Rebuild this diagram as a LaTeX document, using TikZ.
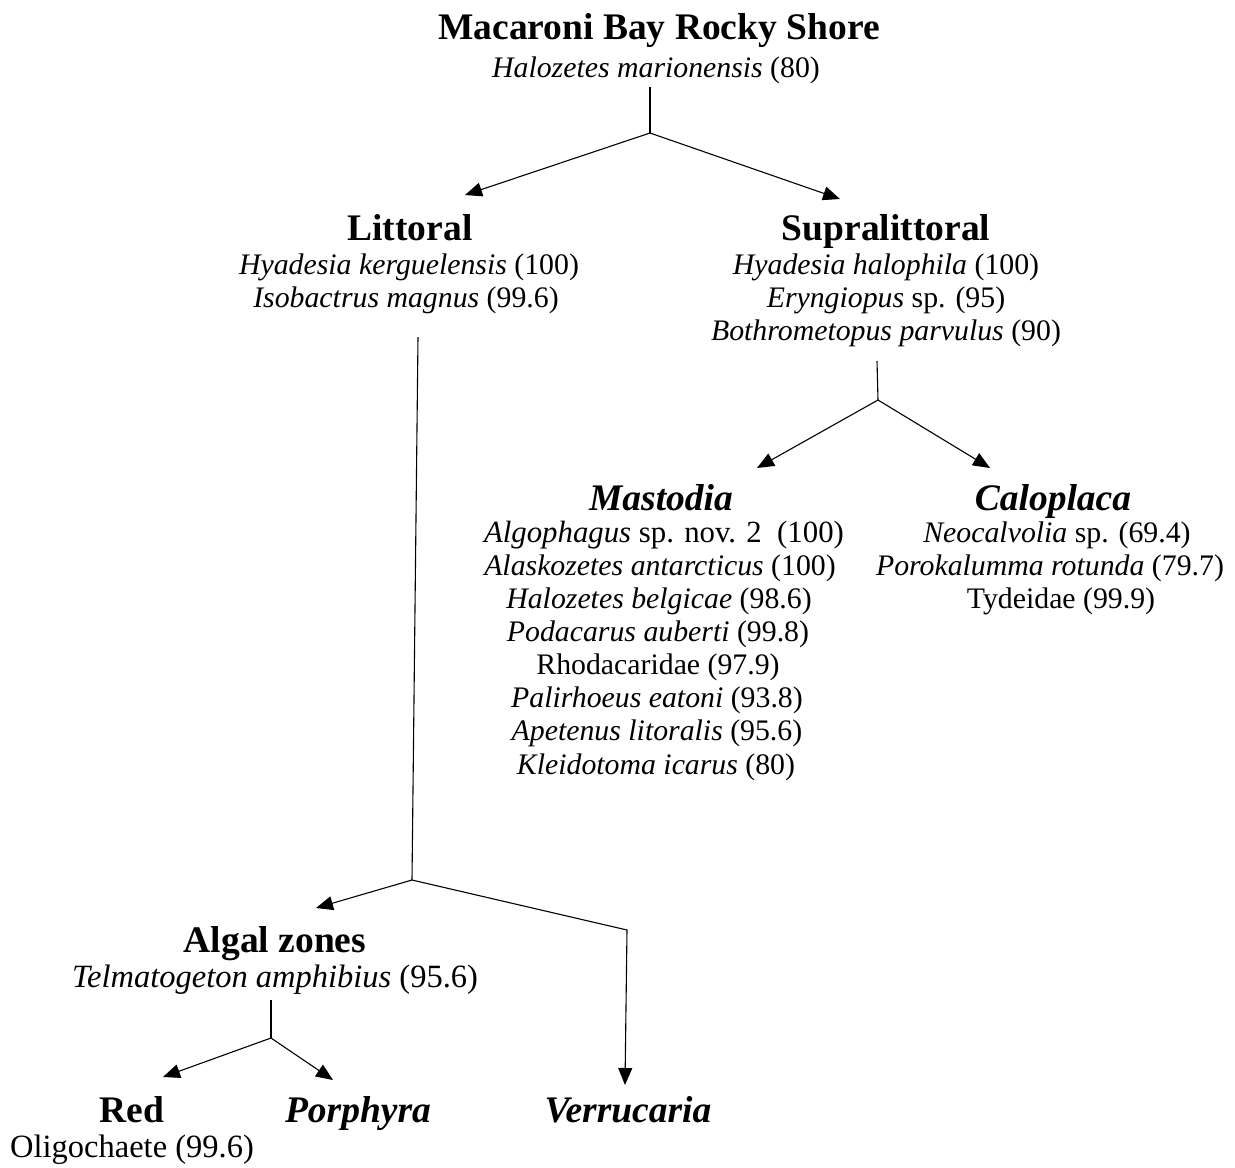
\documentclass[tikz,border=0pt]{standalone}
\usepackage{fontspec}
\setmainfont{Liberation Serif}
\usetikzlibrary{arrows.meta}
\begin{document}
\begin{tikzpicture}[x=1pt,y=-1pt,
  head/.style={anchor=base,inner sep=0pt,font=\fontsize{37.5}{40}\selectfont\bfseries},
  txt/.style={anchor=base,inner sep=0pt,font=\fontsize{29.8}{33.3}\selectfont},
  bigtxt/.style={anchor=base,inner sep=0pt,font=\fontsize{32.5}{35}\selectfont},
  conn/.style={line width=1.1pt},
  arr/.style={line width=1.1pt,-{Triangle[length=17pt,width=14pt]}}]
\useasboundingbox (0,0) rectangle (1235,1168);
% texts
\node[head] (title) at (659,39) {Macaroni Bay Rocky Shore};
\node[txt] (titlesub) at (656,77) {\textit{Halozetes marionensis} (80)};
\node[head] (litt) at (410,240) {Littoral};
\node[txt] (litt1) at (409,274) {\textit{Hyadesia kerguelensis} (100)};
\node[txt] (litt2) at (406,307) {\textit{Isobactrus magnus} (99.6)};
\node[head] (supra) at (886,240) {Supralittoral};
\node[txt] (supra1) at (886,274) {\textit{Hyadesia halophila} (100)};
\node[txt] (supra2) at (886,307) {\textit{Eryngiopus} sp. (95)};
\node[txt] (supra3) at (886,340) {\textit{Bothrometopus parvulus} (90)};
\node[head] (mast) at (661,510) {\textit{Mastodia}};
\node[txt,font=\fontsize{30.8}{33.3}\selectfont] (m1) at (664,542) {\textit{Algophagus} sp. nov. 2\ \ (100)};
\node[txt] (m2) at (660,575) {\textit{Alaskozetes antarcticus} (100)};
\node[txt] (m3) at (659,608) {\textit{Halozetes belgicae} (98.6)};
\node[txt] (m4) at (658,641) {\textit{Podacarus auberti} (99.8)};
\node[txt] (m5) at (658,674) {Rhodacaridae (97.9)};
\node[txt] (m6) at (657,707) {\textit{Palirhoeus eatoni} (93.8)};
\node[txt] (m7) at (657,740) {\textit{Apetenus litoralis} (95.6)};
\node[txt] (m8) at (656,774) {\textit{Kleidotoma icarus} (80)};
\node[head] (calo) at (1053,510) {\textit{Caloplaca}};
\node[txt] (c1) at (1057,542) {\textit{Neocalvolia} sp. (69.4)};
\node[txt] (c2) at (1050,575) {\textit{Porokalumma rotunda} (79.7)};
\node[txt] (c3) at (1061,608) {Tydeidae (99.9)};
\node[head] (algal) at (275,952) {Algal zones};
\node[bigtxt] (algal1) at (275,987) {\textit{Telmatogeton amphibius} (95.6)};
\node[head] (red) at (132,1122) {Red};
\node[bigtxt] (red1) at (132,1157) {Oligochaete (99.6)};
\node[head] (porph) at (358,1122) {\textit{Porphyra}};
\node[head] (verr) at (628,1122) {\textit{Verrucaria}};
% connector points
\coordinate (t0) at (650,87);
\coordinate (tj) at (650,133);
\coordinate (tl) at (465,195);
\coordinate (tr) at (840,199);
\coordinate (s0) at (877,361);
\coordinate (sj) at (878,400);
\coordinate (sl) at (757,468);
\coordinate (sr) at (990,468);
\coordinate (l0) at (418,337);
\coordinate (lj) at (412,880);
\coordinate (ll) at (316,908);
\coordinate (lc) at (627,930);
\coordinate (lr) at (625,1085);
\coordinate (a0) at (271,1000);
\coordinate (aj) at (271,1038);
\coordinate (al) at (163,1077);
\coordinate (ar) at (333,1080);
% connectors
\draw[conn] (t0) -- (tj);
\draw[arr] (tj) -- (tl);
\draw[arr] (tj) -- (tr);
\draw[conn] (s0) -- (sj);
\draw[arr] (sj) -- (sl);
\draw[arr] (sj) -- (sr);
\draw[conn] (l0) -- (lj);
\draw[arr] (lj) -- (ll);
\draw[arr] (lj) -- (lc) -- (lr);
\draw[conn] (a0) -- (aj);
\draw[arr] (aj) -- (al);
\draw[arr] (aj) -- (ar);
\end{tikzpicture}
\end{document}
